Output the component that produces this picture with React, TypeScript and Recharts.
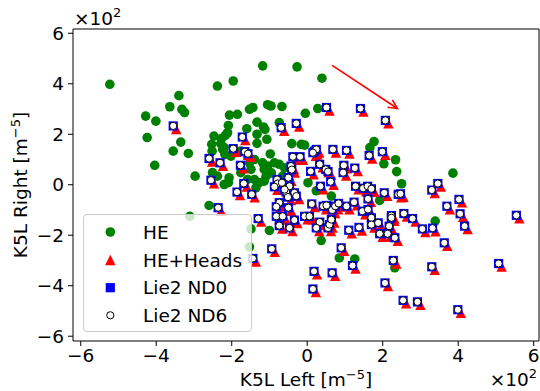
import React from 'react';
import { ScatterChart, Scatter, XAxis, YAxis, ReferenceArea, ReferenceLine, Legend, Label } from 'recharts';

const FONT = "'DejaVu Sans', sans-serif";
const FS = 18.5;
const FS_SUP = 13;

const X_TICKS = [-6, -4, -2, 0, 2, 4, 6];
const Y_TICKS = [-6, -4, -2, 0, 2, 4, 6];
const X_DOMAIN: [number, number] = [-6.205, 6.14];
const Y_DOMAIN: [number, number] = [-6.19, 6.17];
const SERIES_NAMES = ['HE', 'HE+Heads', 'Lie2 ND0', 'Lie2 ND6'];
const X_TITLE = 'K5L Left [m';
const Y_TITLE = 'K5L Right [m';
const UNIT_EXP = '−5';
const SCALE_TEXT = '×10';
const SCALE_EXP = '2';
const ARROW_FROM = { x: 0.66, y: 4.73 };
const ARROW_TO = { x: 2.39, y: 3.02 };

const HE: [number, number][] = [
  [-5.23, 3.98], [-4.28, 2.72], [-4.01, 2.52], [-3.64, 3.09], [-3.40, 3.53], [-3.32, 2.99], [-3.25, 2.86],
  [-4.24, 1.87], [-3.35, 1.69], [-3.55, 1.33], [-3.15, 1.24], [-4.04, 0.77], [-2.97, 0.34], [-2.38, 3.91],
  [-1.96, 4.11], [-1.18, 4.71], [-2.09, 2.35], [-2.06, 2.76], [-1.85, 2.79], [-1.53, 2.99], [-1.44, 3.06],
  [-1.05, 3.17], [-0.96, 3.12], [-0.67, 3.10], [-1.60, 2.22], [-1.33, 2.48], [-1.16, 2.29], [-1.07, 1.80],
  [-1.33, 1.64], [-1.33, 2.00], [-2.47, 1.93], [-2.53, 1.60], [-2.52, 1.33], [-2.20, 1.47], [-2.29, 1.63],
  [-2.17, 1.96], [-2.27, 1.83], [-2.11, 2.06], [-2.18, 1.20], [-2.24, 1.40], [-2.02, 1.13], [-1.76, 1.33],
  [-2.51, 0.48], [-2.38, 0.34], [-2.07, 0.28], [-2.09, 0.08], [-2.20, 0.01], [-1.76, 0.48], [-1.58, 0.21],
  [-1.40, 0.21], [-1.27, 0.08], [-1.36, -0.12], [-1.49, 0.61], [-1.40, 1.00], [-1.53, 0.87], [-0.27, 4.67],
  [0.39, 4.22], [-0.05, 2.83], [0.28, 3.02], [-1.12, 2.19], [-0.74, 2.46], [-0.41, 1.63], [-0.16, 1.60],
  [-0.07, 1.57], [1.66, 1.47], [1.77, 1.71], [2.34, 0.99], [2.03, 0.83], [2.37, 0.52], [2.50, 0.04],
  [3.86, 0.46], [0.24, -0.24], [0.64, -0.45], [1.92, -0.62], [3.39, -1.44], [-1.00, -1.81], [0.37, -2.21],
  [0.85, -2.90], [1.26, -2.94], [2.32, -3.29], [-2.60, -0.82], [-3.11, -1.25], [-1.49, -1.75], [-1.53, -2.46],
  [-1.18, 0.87], [-1.14, 0.61], [-1.09, 0.34], [-1.14, 0.14], [-1.05, 0.74], [-0.87, 0.87], [-0.74, 0.81],
  [-0.60, 0.67], [-0.95, 0.47], [-0.65, 0.34], [-0.47, 0.14], [0.02, 0.08], [-0.98, 1.22],
];

const HE_HEADS: [number, number][] = [
  [-3.47, 2.21], [-2.52, 0.92], [-2.23, 0.75], [-1.88, 1.31], [-1.64, 1.77], [-1.57, 1.19], [-1.49, 1.11],
  [-1.69, 0.65], [-2.47, 0.06], [-1.60, -0.07], [-1.78, -0.41], [-1.39, -0.50], [-2.28, -1.03], [-1.22, -1.46],
  [-1.36, -3.04], [-0.86, -2.66], [0.59, 2.94], [1.49, 2.90], [2.15, 2.43], [-0.61, 2.14], [-0.21, 2.31],
  [0.27, 1.21], [0.32, 1.28], [0.76, 1.28], [1.12, 1.24], [1.72, 1.04], [2.07, 1.19], [-0.30, 0.99],
  [-0.11, 0.99], [0.23, 1.15], [-0.35, 0.62], [-0.33, 0.48], [0.41, 0.69], [0.17, 0.41], [0.57, 0.49],
  [0.63, 0.40], [1.05, 0.65], [1.03, 0.36], [1.34, 0.54], [0.70, 0.00], [0.43, -0.18], [-0.72, 0.09],
  [-0.42, 0.16], [-0.70, -0.07], [-0.79, -0.20], [-0.59, -0.04], [-0.39, -0.18], [-0.48, -0.41], [-0.26, -0.44],
  [-0.43, -0.61], [-0.52, -0.31], [1.36, -0.18], [1.56, -0.26], [1.68, -0.18], [1.78, -0.28], [1.69, -0.68],
  [2.12, -0.44], [2.49, -0.50], [2.55, -0.48], [3.38, -0.33], [3.54, -0.07], [4.10, -0.70], [3.78, -0.97],
  [4.13, -1.27], [4.25, -1.76], [5.62, -1.33], [2.64, -1.26], [2.87, -1.46], [3.13, -1.87], [3.40, -1.84],
  [3.71, -2.42], [2.31, -1.34], [2.31, -1.43], [2.25, -1.76], [2.00, -2.06], [2.21, -2.06], [2.40, -2.22],
  [0.20, -0.88], [0.50, -0.97], [0.59, -0.94], [0.74, -1.12], [0.82, -0.97], [0.91, -0.86], [1.12, -0.97],
  [1.32, -0.81], [1.54, -1.17], [1.78, -1.43], [1.69, -1.10], [0.01, -1.37], [0.14, -1.37], [0.41, -1.60],
  [0.32, -1.83], [0.63, -1.83], [0.67, -1.70], [0.72, -1.50], [1.18, -1.92], [1.45, -1.81], [1.78, -1.70],
  [1.96, -1.63], [0.98, -2.62], [1.28, -3.32], [2.36, -3.12], [0.26, -3.55], [0.74, -3.61], [0.23, -4.25],
  [2.14, -4.01], [2.62, -4.70], [3.00, -4.76], [3.38, -3.37], [4.07, -5.07], [5.15, -3.24], [-0.66, -0.83],
  [-0.74, -0.99], [-0.42, -1.03], [-0.74, -1.37], [-0.57, -1.37], [-0.66, -1.74], [-0.39, -1.83], [-0.26, -1.52],
  [-0.21, -0.57],
];

const LIE2_ND0: [number, number][] = [
  [-3.55, 2.33], [-2.60, 1.04], [-2.31, 0.87], [-1.96, 1.43], [-1.72, 1.89], [-1.65, 1.31], [-1.57, 1.23],
  [-1.77, 0.77], [-2.55, 0.18], [-1.68, 0.05], [-1.86, -0.29], [-1.47, -0.38], [-2.36, -0.91], [-1.30, -1.34],
  [-1.44, -2.92], [-0.94, -2.54], [0.51, 3.06], [1.41, 3.02], [2.07, 2.55], [-0.69, 2.26], [-0.29, 2.43],
  [0.19, 1.33], [0.24, 1.40], [0.68, 1.40], [1.04, 1.36], [1.64, 1.16], [1.99, 1.31], [-0.38, 1.11],
  [-0.19, 1.11], [0.15, 1.27], [-0.43, 0.74], [-0.41, 0.60], [0.33, 0.81], [0.09, 0.53], [0.49, 0.61],
  [0.55, 0.52], [0.97, 0.77], [0.95, 0.48], [1.26, 0.66], [0.62, 0.12], [0.35, -0.06], [-0.80, 0.21],
  [-0.50, 0.28], [-0.78, 0.05], [-0.87, -0.08], [-0.67, 0.08], [-0.47, -0.06], [-0.56, -0.29], [-0.34, -0.32],
  [-0.51, -0.49], [-0.60, -0.19], [1.28, -0.06], [1.48, -0.14], [1.60, -0.06], [1.70, -0.16], [1.61, -0.56],
  [2.04, -0.32], [2.41, -0.38], [2.47, -0.36], [3.30, -0.21], [3.46, 0.05], [4.02, -0.58], [3.70, -0.85],
  [4.05, -1.15], [4.17, -1.64], [5.54, -1.21], [2.56, -1.14], [2.79, -1.34], [3.05, -1.75], [3.32, -1.72],
  [3.63, -2.30], [2.23, -1.22], [2.23, -1.31], [2.17, -1.64], [1.92, -1.94], [2.13, -1.94], [2.32, -2.10],
  [0.12, -0.76], [0.42, -0.85], [0.51, -0.82], [0.66, -1.00], [0.74, -0.85], [0.83, -0.74], [1.04, -0.85],
  [1.24, -0.69], [1.46, -1.05], [1.70, -1.31], [1.61, -0.98], [-0.07, -1.25], [0.06, -1.25], [0.33, -1.48],
  [0.24, -1.71], [0.55, -1.71], [0.59, -1.58], [0.64, -1.38], [1.10, -1.80], [1.37, -1.69], [1.70, -1.58],
  [1.88, -1.51], [0.90, -2.50], [1.20, -3.20], [2.28, -3.00], [0.18, -3.43], [0.66, -3.49], [0.15, -4.13],
  [2.06, -3.89], [2.54, -4.58], [2.92, -4.64], [3.30, -3.25], [3.99, -4.95], [5.07, -3.12], [-0.74, -0.71],
  [-0.82, -0.87], [-0.50, -0.91], [-0.82, -1.25], [-0.65, -1.25], [-0.74, -1.62], [-0.47, -1.71], [-0.34, -1.40],
  [-0.29, -0.45],
];

const LIE2_ND6: [number, number][] = LIE2_ND0;

const toRows = (pts: [number, number][]) => pts.map(([x, y]) => ({ x, y }));

const GREEN = '#008000';
const RED = '#ff0000';
const BLUE = '#0000ff';

const GreenDot = (p: any) => <circle cx={p.cx} cy={p.cy} r={4.8} fill={GREEN} />;
const RedTri = (p: any) => {
  const s = 5.2;
  return <polygon points={`${p.cx},${p.cy - s} ${p.cx - s},${p.cy + s} ${p.cx + s},${p.cy + s}`} fill={RED} />;
};
const BlueSq = (p: any) => {
  const s = 4.6;
  return <rect x={p.cx - s} y={p.cy - s} width={2 * s} height={2 * s} fill={BLUE} />;
};
const WhiteDot = (p: any) => <circle cx={p.cx} cy={p.cy} r={3.6} fill="#ffffff" stroke="#000000" strokeWidth={1} />;

const fmt = (v: number) => (v < 0 ? `−${Math.abs(v)}` : `${v}`);

const ArrowShape = (p: any) => {
  const { x1, y1, x2, y2 } = p;
  const ang = Math.atan2(y2 - y1, x2 - x1);
  const L = 10;
  const a1 = ang + Math.PI - 0.45;
  const a2 = ang + Math.PI + 0.45;
  return (
    <g>
      <line x1={x1} y1={y1} x2={x2} y2={y2} stroke={RED} strokeWidth={1.6} />
      <polyline
        points={`${x2 + L * Math.cos(a1)},${y2 + L * Math.sin(a1)} ${x2},${y2} ${x2 + L * Math.cos(a2)},${y2 + L * Math.sin(a2)}`}
        fill="none"
        stroke={RED}
        strokeWidth={1.6}
      />
    </g>
  );
};

const XTitle = () => (
  <g fontFamily={FONT} fill="#000">
    <text x={306} y={386} textAnchor="middle" fontSize={FS}>
      {X_TITLE}
      <tspan dy={-7} fontSize={FS_SUP}>{UNIT_EXP}</tspan>
      <tspan dy={7}>]</tspan>
    </text>
    <text x={537} y={386} textAnchor="end" fontSize={FS}>
      {SCALE_TEXT}
      <tspan dy={-8} fontSize={FS_SUP}>{SCALE_EXP}</tspan>
    </text>
  </g>
);

const YTitle = () => (
  <g fontFamily={FONT} fill="#000">
    <text transform="translate(27,185) rotate(-90)" textAnchor="middle" fontSize={FS}>
      {Y_TITLE}
      <tspan dy={-7} fontSize={FS_SUP}>{UNIT_EXP}</tspan>
      <tspan dy={7}>]</tspan>
    </text>
    <text x={74} y={25} textAnchor="start" fontSize={FS}>
      {SCALE_TEXT}
      <tspan dy={-8} fontSize={FS_SUP}>{SCALE_EXP}</tspan>
    </text>
  </g>
);

const LegendBox = () => {
  const rows = [17, 45, 72.7, 100.3];
  const mx = 26.3;
  return (
    <div
      style={{
        width: 169,
        height: 118,
        boxSizing: 'border-box',
        border: '1px solid #cccccc',
        borderRadius: 4,
        background: 'rgba(255,255,255,0.8)',
      }}
    >
      <svg width={167} height={116} style={{ display: 'block' }}>
        <GreenDot cx={mx} cy={rows[0]} />
        <RedTri cx={mx} cy={rows[1]} />
        <BlueSq cx={mx} cy={rows[2]} />
        <WhiteDot cx={mx} cy={rows[3]} />
        {SERIES_NAMES.map((n, i) => (
          <text key={n} x={59} y={rows[i]} dy="0.36em" fontFamily={FONT} fontSize={FS} fill="#000">
            {n}
          </text>
        ))}
      </svg>
    </div>
  );
};

export default function App() {
  return (
    <div style={{ position: 'absolute', left: 0, top: 0, background: '#fff' }}>
      <ScatterChart width={540} height={391} margin={{ top: 29, right: 1, bottom: 0, left: 0 }}>
        <XAxis
          type="number"
          dataKey="x"
          domain={X_DOMAIN}
          ticks={X_TICKS}
          allowDataOverflow
          height={50}
          axisLine={false}
          tickLine={{ stroke: '#000' }}
          tickSize={5}
          tickMargin={3}
          tickFormatter={fmt}
          tick={{ fontSize: FS, fill: '#000', fontFamily: FONT }}
        >
          <Label content={XTitle} />
        </XAxis>
        <YAxis
          type="number"
          dataKey="y"
          domain={Y_DOMAIN}
          ticks={Y_TICKS}
          allowDataOverflow
          width={73}
          axisLine={false}
          tickLine={{ stroke: '#000' }}
          tickSize={5}
          tickMargin={4}
          tickFormatter={fmt}
          tick={{ fontSize: FS, fill: '#000', fontFamily: FONT }}
        >
          <Label content={YTitle} />
        </YAxis>
        <Scatter name={SERIES_NAMES[0]} data={toRows(HE)} shape={GreenDot} isAnimationActive={false} />
        <Scatter name={SERIES_NAMES[1]} data={toRows(HE_HEADS)} shape={RedTri} isAnimationActive={false} />
        <Scatter name={SERIES_NAMES[2]} data={toRows(LIE2_ND0)} shape={BlueSq} isAnimationActive={false} />
        <Scatter name={SERIES_NAMES[3]} data={toRows(LIE2_ND6)} shape={WhiteDot} isAnimationActive={false} />
        <ReferenceLine segment={[ARROW_FROM, ARROW_TO]} ifOverflow="visible" shape={ArrowShape} />
        <ReferenceArea
          x1={X_DOMAIN[0]}
          x2={X_DOMAIN[1]}
          y1={Y_DOMAIN[0]}
          y2={Y_DOMAIN[1]}
          fill="none"
          fillOpacity={0}
          stroke="#000"
          strokeWidth={1}
          ifOverflow="visible"
        />
        <Legend
          layout="vertical"
          align="center"
          verticalAlign="middle"
          content={LegendBox}
          wrapperStyle={{ position: 'absolute', left: 83, top: 214, width: 169, height: 118, bottom: 'auto', right: 'auto' }}
        />
      </ScatterChart>
    </div>
  );
}
